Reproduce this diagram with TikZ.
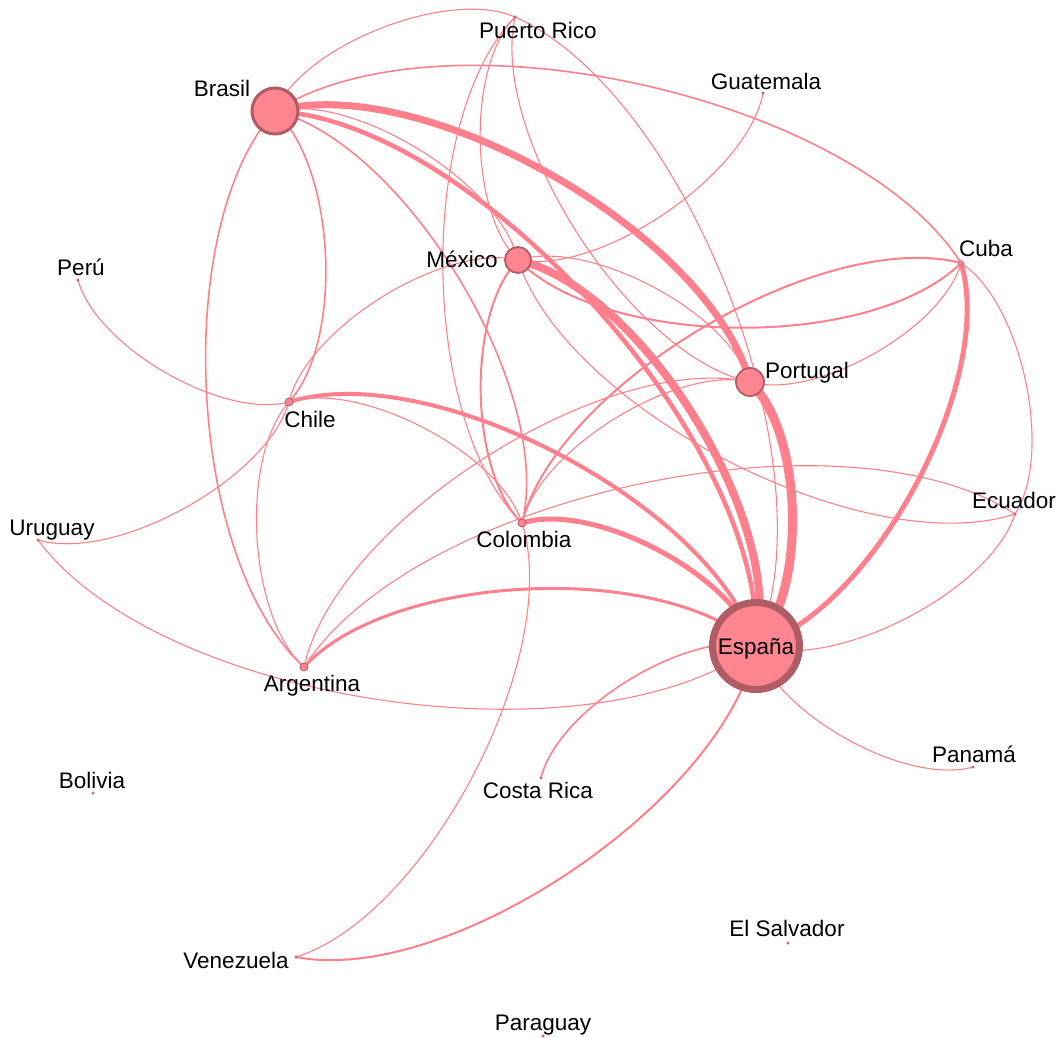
\documentclass[tikz,border=0pt]{standalone}
\usepackage{fontspec}
\setmainfont{Liberation Sans}
\usetikzlibrary{backgrounds}
\definecolor{nodepink}{RGB}{255,133,145}
\definecolor{rimred}{RGB}{176,92,101}
\definecolor{linkpink}{RGB}{255,128,140}

\begin{document}
\begin{tikzpicture}[
		x=1pt, y=1pt,
		every node/.style={inner sep=0pt, outer sep=0pt},
		hub/.style={circle, fill=nodepink, draw=rimred},
		dot/.style={circle, fill=nodepink, draw=rimred, minimum size=8pt, line width=.8pt},
		speck/.style={circle, fill=nodepink, draw=rimred, minimum size=2.5pt, line width=.4pt},
		lbl/.style={font=\fontsize{22.5}{26}\selectfont, anchor=base, text=black},
		link/.style={draw=linkpink, line cap=round, line width=1.1pt},
		lft/.style={bend left=45, looseness=.72},
		rgt/.style={bend right=45, looseness=.72},
		]
		\useasboundingbox (0,0) rectangle (1061,-1037);

		% Paises (nodos)
		\node[hub, minimum size=46pt, line width=3pt]   (brasil)   at (275,-111) {};
		\node[hub, minimum size=87pt, line width=7pt]   (espana)   at (756,-646) {};
		\node[hub, minimum size=26pt, line width=1.8pt] (mexico)   at (518,-260) {};
		\node[hub, minimum size=28pt, line width=1.8pt] (portugal) at (750,-382) {};
		\node[dot]   (chile)     at (289,-402) {};
		\node[dot]   (colombia)  at (522,-523) {};
		\node[dot]   (argentina) at (304,-667) {};
		\node[speck, minimum size=5pt] (cuba) at (961,-263) {};
		\node[speck] (prico)     at (515,-17)  {};
		\node[speck] (guatemala) at (763,-93)  {};
		\node[speck] (peru)      at (78,-280)  {};
		\node[speck] (uruguay)   at (38,-540)  {};
		\node[speck] (ecuador)   at (1015,-514) {};
		\node[speck] (panama)    at (973,-767) {};
		\node[speck] (bolivia)   at (93,-793)  {};
		\node[speck] (costarica) at (541,-778) {};
		\node[speck] (salvador)  at (788,-943) {};
		\node[speck] (venezuela) at (296,-957) {};
		\node[speck] (paraguay)  at (543,-1036) {};

		% Etiquetas
		\node[lbl] (lbPrico)     at (538,-38)  {Puerto Rico};
		\node[lbl] (lbBrasil)    at (222,-96)  {Brasil};
		\node[lbl] (lbGuatemala) at (766,-89)  {Guatemala};
		\node[lbl] (lbMexico)    at (462,-267) {México};
		\node[lbl] (lbCuba)      at (986,-256) {Cuba};
		\node[lbl] (lbPeru)      at (81,-275)  {Perú};
		\node[lbl] (lbPortugal)  at (807,-378) {Portugal};
		\node[lbl] (lbChile)     at (310,-427) {Chile};
		\node[lbl] (lbUruguay)   at (52,-535)  {Uruguay};
		\node[lbl] (lbEcuador)   at (1014,-508) {Ecuador};
		\node[lbl] (lbColombia)  at (524,-547) {Colombia};
		\node[lbl] (lbEspana)    at (756,-654) {España};
		\node[lbl] (lbArgentina) at (312,-691) {Argentina};
		\node[lbl] (lbPanama)    at (974,-762) {Panamá};
		\node[lbl] (lbBolivia)   at (92,-788)  {Bolivia};
		\node[lbl] (lbCostarica) at (538,-798) {Costa Rica};
		\node[lbl] (lbSalvador)  at (787,-936) {El Salvador};
		\node[lbl] (lbVenezuela) at (236,-968) {Venezuela};
		\node[lbl] (lbParaguay)  at (543,-1030) {Paraguay};

		% Enlaces (fondo)
		\begin{scope}[on background layer]
			\draw[link] (brasil.center) to[lft] (prico.center);
			\draw[link, line width=1.6pt] (brasil.center) to[lft] (cuba.center);
			\draw[link, line width=7pt] (brasil.center) to[lft] (portugal.center);
			\draw[link, line width=4.5pt] (brasil.center) to[lft] (espana.center);
			\draw[link] (brasil.center) to[lft] (mexico.center);
			\draw[link, line width=1.6pt] (brasil.center) to[lft] (colombia.center);
			\draw[link, line width=1.6pt] (brasil.center) to[lft] (chile.center);
			\draw[link, line width=1.6pt] (brasil.center) to[rgt] (argentina.center);
			\draw[link] (prico.center) to[rgt] (colombia.center);
			\draw[link] (prico.center) to[rgt] (mexico.center);
			\draw[link] (prico.center) to[lft] (espana.center);
			\draw[link] (prico.center) to[rgt] (portugal.center);
			\draw[link] (mexico.center) to[rgt] (guatemala.center);
			\draw[link, line width=8pt] (mexico.center) to[lft] (espana.center);
			\draw[link, line width=2pt] (mexico.center) to[rgt] (cuba.center);
			\draw[link, line width=2pt] (mexico.center) to[rgt] (colombia.center);
			\draw[link] (mexico.center) to[rgt] (ecuador.center);
			\draw[link] (mexico.center) to[lft] (portugal.center);
			\draw[link] (chile.center) to[lft] (mexico.center);
			\draw[link] (peru.center) to[rgt] (chile.center);
			\draw[link] (uruguay.center) to[rgt] (chile.center);
			\draw[link] (chile.center) to[rgt] (argentina.center);
			\draw[link, line width=4pt] (chile.center) to[lft] (espana.center);
			\draw[link] (chile.center) to[lft] (colombia.center);
			\draw[link] (uruguay.center) to[rgt] (espana.center);
			\draw[link, line width=3pt] (argentina.center) to[lft] (espana.center);
			\draw[link] (argentina.center) to[lft] (portugal.center);
			\draw[link] (argentina.center) to[lft] (ecuador.center);
			\draw[link, line width=5pt] (colombia.center) to[lft] (espana.center);
			\draw[link, line width=2pt] (colombia.center) to[lft] (cuba.center);
			\draw[link] (colombia.center) to[lft] (portugal.center);
			\draw[link] (colombia.center) to[lft] (venezuela.center);
			\draw[link, line width=2pt] (venezuela.center) to[rgt] (espana.center);
			\draw[link, line width=1.6pt] (costarica.center) to[lft] (espana.center);
			\draw[link] (espana.center) to[rgt] (panama.center);
			\draw[link, line width=9pt] (portugal.center) to[lft] (espana.center);
			\draw[link, line width=5pt] (cuba.center) to[lft] (espana.center);
			\draw[link] (cuba.center) to[lft] (portugal.center);
			\draw[link] (cuba.center) to[lft] (ecuador.center);
			\draw[link] (ecuador.center) to[lft] (espana.center);
		\end{scope}
	\end{tikzpicture}
\end{document}
